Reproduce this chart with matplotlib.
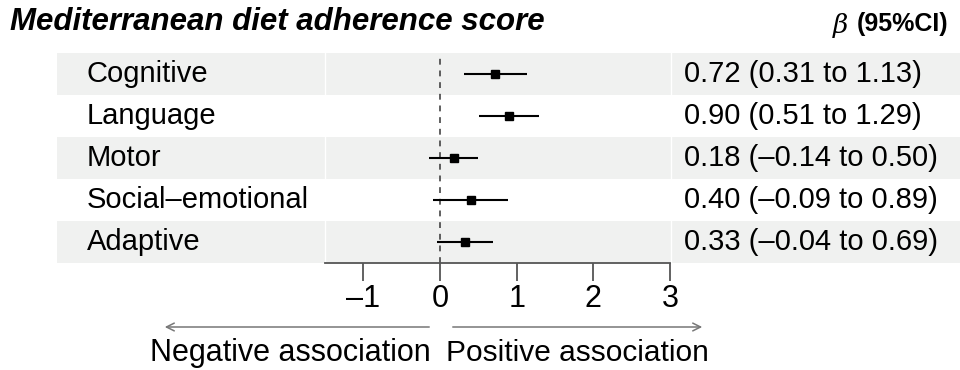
import matplotlib.pyplot as plt
from matplotlib.transforms import blended_transform_factory

plt.rcParams["font.family"] = ["Liberation Sans", "DejaVu Sans"]

# %%
# Estimates and confidence intervals for each developmental domain
domains = ["Cognitive", "Language", "Motor", "Social\u2013emotional", "Adaptive"]
beta = [0.72, 0.90, 0.18, 0.40, 0.33]
ci_low = [0.31, 0.51, -0.14, -0.09, -0.04]
ci_high = [1.13, 1.29, 0.50, 0.89, 0.69]
xticks = [-1, 0, 1, 2, 3]


def fmt(v):
    return f"{v:.2f}".replace("-", "\u2013")


ci_text = [f"{fmt(b)} ({fmt(lo)} to {fmt(hi)})" for b, lo, hi in zip(beta, ci_low, ci_high)]

W, H = 960, 370
fig = plt.figure(figsize=(W / 100, H / 100), dpi=100)


def fx(px):
    return px / W


def fy(py):
    return 1 - py / H


row_top, row_bot = 53, 263
n = len(domains)
band_col = "#f0f1f0"

# %%
# Table background: shaded bands on alternate rows
bg = fig.add_axes([fx(57), fy(row_bot), fx(W - 57), fy(row_top) - fy(row_bot)])
bg.set_xlim(0, 1)
bg.set_ylim(n - 0.5, -0.5)
bg.axis("off")
for i in range(0, n, 2):
    bg.axhspan(i - 0.5, i + 0.5, color=band_col, lw=0)
# thin white column separators inside the bands
for xs in (325, 671):
    bg.axvline((xs - 57) / (W - 57), color="white", lw=1)

# %%
# Forest plot column
ax = fig.add_axes([fx(325), fy(row_bot), fx(670) - fx(325), fy(row_top) - fy(row_bot)])
ax.patch.set_alpha(0)
ax.set_xlim(-1.5, 3)
ax.set_ylim(n - 0.5, -0.5)
for s in ("top", "right", "left"):
    ax.spines[s].set_visible(False)
ax.spines["bottom"].set_color("#555555")
ax.spines["bottom"].set_linewidth(1.3)
ax.set_yticks([])
ax.set_xticks(xticks)
ax.set_xticklabels([str(t).replace("-", "\u2013") for t in xticks], fontsize=22)
ax.tick_params(axis="x", length=13, width=1.3, color="#555555", pad=2)

ax.axvline(0, color="#444444", lw=1.2, ls=(0, (3.5, 3.5)), ymax=1)
rows = list(range(n))
ax.hlines(rows, ci_low, ci_high, color="black", lw=1.5)
ax.plot(beta, rows, "s", color="black", ms=6)

# direction arrows under the axis
arrow_kw = dict(arrowstyle="->", color="#777777", lw=1.1, mutation_scale=14)
ax.annotate("", xy=(fx(162), fy(327)), xytext=(fx(432), fy(327)),
            xycoords="figure fraction", textcoords="figure fraction", arrowprops=arrow_kw)
ax.annotate("", xy=(fx(705), fy(327)), xytext=(fx(450), fy(327)),
            xycoords="figure fraction", textcoords="figure fraction", arrowprops=arrow_kw)
fig.text(fx(290), fy(353), "Negative association", fontsize=22, ha="center", va="center")
fig.text(fx(577), fy(353), "Positive association", fontsize=21.5, ha="center", va="center")

# %%
# Row labels and estimate text
tr_lab = blended_transform_factory(fig.transFigure, bg.transData)
for i, (d, t) in enumerate(zip(domains, ci_text)):
    fig.text(fx(87), i, d, fontsize=21, ha="left", va="center", transform=tr_lab)
    fig.text(fx(684), i, t, fontsize=21, ha="left", va="center", transform=tr_lab)

# %%
# Headers
fig.text(fx(10), fy(22), "Mediterranean diet adherence score", fontsize=22.5,
         fontweight="bold", fontstyle="italic", ha="left", va="center")
fig.text(fx(948), fy(24), "(95%CI)", fontsize=18, fontweight="bold", ha="right", va="center")
fig.text(fx(833), fy(25), "\u03b2", fontsize=19, fontstyle="italic", ha="left", va="center",
         family=["DejaVu Serif"])

fig.savefig("out.png", dpi=100)
